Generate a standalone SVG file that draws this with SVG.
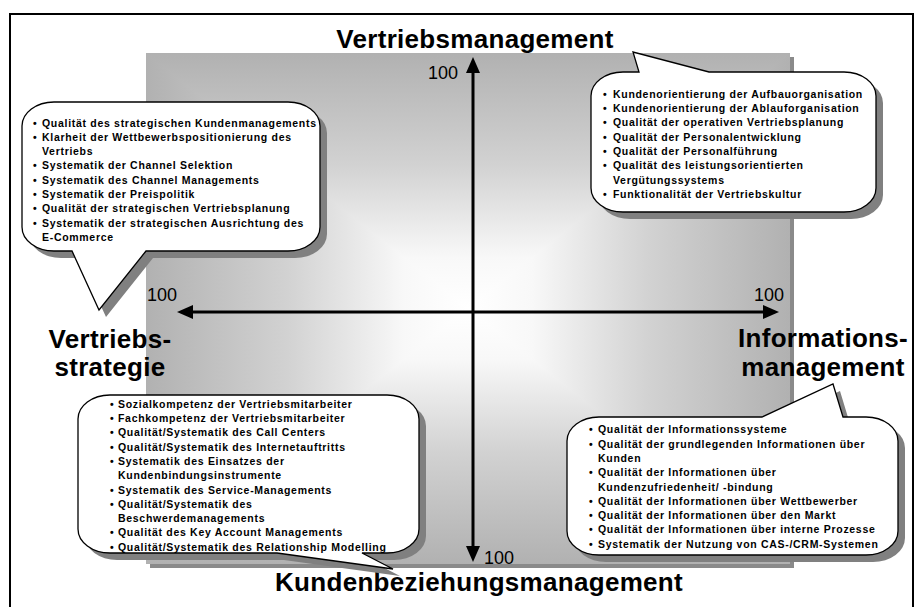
<svg xmlns="http://www.w3.org/2000/svg" width="916" height="607" viewBox="0 0 916 607">
  <defs>
    <style>
      .title { font-family: "Liberation Sans", Arial, sans-serif; font-size: 26px; font-weight: bold; letter-spacing: 0.3px; fill: #000; }
      .scale { font-family: "Liberation Sans", Arial, sans-serif; font-size: 18px; fill: #000; }
      .list { font-family: "Liberation Sans", Arial, sans-serif; font-size: 10.5px; font-weight: bold; letter-spacing: 0.7px; fill: #000; }
      .bubble { fill: #fff; stroke: #000; stroke-width: 1.3; stroke-linejoin: miter; }
      .bubble-shadow { fill: #808080; }
      .axis { stroke: #000; stroke-width: 3; fill: none; }
    </style>
    <linearGradient id="fadeX" gradientUnits="userSpaceOnUse" x1="146" y1="0" x2="790" y2="0">
      <stop offset="0" stop-color="#b1b1b1"/>
      <stop offset="0.22" stop-color="#d2d2d2"/>
      <stop offset="0.4" stop-color="#f8f8f8"/>
      <stop offset="0.5" stop-color="#ffffff"/>
      <stop offset="0.6" stop-color="#f8f8f8"/>
      <stop offset="0.78" stop-color="#d2d2d2"/>
      <stop offset="1" stop-color="#b1b1b1"/>
    </linearGradient>
    <linearGradient id="fadeY" gradientUnits="userSpaceOnUse" x1="0" y1="53" x2="0" y2="564">
      <stop offset="0" stop-color="#b1b1b1"/>
      <stop offset="0.22" stop-color="#d2d2d2"/>
      <stop offset="0.4" stop-color="#f8f8f8"/>
      <stop offset="0.5" stop-color="#ffffff"/>
      <stop offset="0.6" stop-color="#f8f8f8"/>
      <stop offset="0.78" stop-color="#d2d2d2"/>
      <stop offset="1" stop-color="#b1b1b1"/>
    </linearGradient>
    <marker id="head" markerUnits="userSpaceOnUse" markerWidth="16" markerHeight="14" refX="2" refY="7" orient="auto-start-reverse">
      <path d="M0,0 L16,7 L0,14 Z" fill="#000"/>
    </marker>
    <path id="bubbleTL" d="M54,102 H288 A32,24 0 0 1 320,126 V227 A32,24 0 0 1 288,251 H146 L99,310 L72,251 H54 A32,24 0 0 1 22,227 V126 A32,24 0 0 1 54,102 Z"/>
    <path id="bubbleTR" d="M623,72 H639 L633,52 L709,72 H844 A32,24 0 0 1 876,96 V188 A32,24 0 0 1 844,212 H623 A32,24 0 0 1 591,188 V96 A32,24 0 0 1 623,72 Z"/>
    <path id="bubbleBL" d="M110,395 H387 A32,24 0 0 1 419,419 V529 A32,24 0 0 1 387,553 H362 L393,569 L277,553 H110 A32,24 0 0 1 78,529 V419 A32,24 0 0 1 110,395 Z"/>
    <path id="bubbleBR" d="M599,417 H762 L833,384 L843,417 H866 A32,24 0 0 1 898,441 V531 A32,24 0 0 1 866,555 H599 A32,24 0 0 1 567,531 V441 A32,24 0 0 1 599,417 Z"/>
  </defs>

  <rect width="916" height="607" fill="#fff"/>

  <!-- outer frame -->
  <path d="M10,607 V14 H913 V607" fill="none" stroke="#000" stroke-width="2"/>

  <!-- shaded field with a rectangular fade towards the centre -->
  <g id="field">
    <rect x="150" y="57" width="644" height="511" fill="#8a8a8a"/>
    <rect x="146" y="53" width="644" height="511" fill="url(#fadeX)"/>
    <polygon points="146,53 790,53 468,308.5" fill="url(#fadeY)"/>
    <polygon points="146,564 790,564 468,308.5" fill="url(#fadeY)"/>
  </g>

  <!-- axes -->
  <g id="connectors">
    <line class="axis" x1="473" y1="71" x2="473" y2="548" marker-start="url(#head)" marker-end="url(#head)"/>
    <line class="axis" x1="191" y1="312" x2="765" y2="312" marker-start="url(#head)" marker-end="url(#head)"/>
  </g>

  <g id="scale-labels" class="scale">
    <text x="428" y="79">100</text>
    <text x="147" y="301">100</text>
    <text x="754" y="301">100</text>
    <text x="484" y="564">100</text>
  </g>

  <!-- axis titles -->
  <g id="title-top"><text class="title" x="475" y="48" text-anchor="middle">Vertriebsmanagement</text></g>
  <g id="title-left"><text class="title" text-anchor="middle"><tspan x="110" y="348">Vertriebs-</tspan><tspan x="110" y="376">strategie</tspan></text></g>
  <g id="title-right"><text class="title" text-anchor="middle"><tspan x="823" y="347">Informations-</tspan><tspan x="823" y="376">management</tspan></text></g>
  <g id="title-bottom"><text class="title" x="479" y="591" text-anchor="middle">Kundenbeziehungsmanagement</text></g>

  <!-- callout: strategy -->
  <g id="callout-strategie">
    <use href="#bubbleTL" class="bubble-shadow" transform="translate(7,7)"/>
    <use href="#bubbleTL" class="bubble"/>
    <text class="list">
      <tspan x="33" y="126.5">•</tspan><tspan x="42">Qualität des strategischen Kundenmanagements</tspan>
      <tspan x="33" y="140.8">•</tspan><tspan x="42">Klarheit der Wettbewerbspositionierung des</tspan>
      <tspan x="42" y="155.1">Vertriebs</tspan>
      <tspan x="33" y="169.4">•</tspan><tspan x="42">Systematik der Channel Selektion</tspan>
      <tspan x="33" y="183.7">•</tspan><tspan x="42">Systematik des Channel Managements</tspan>
      <tspan x="33" y="198">•</tspan><tspan x="42">Systematik der Preispolitik</tspan>
      <tspan x="33" y="212.3">•</tspan><tspan x="42">Qualität der strategischen Vertriebsplanung</tspan>
      <tspan x="33" y="226.6">•</tspan><tspan x="42">Systematik der strategischen Ausrichtung des</tspan>
      <tspan x="42" y="240.9">E-Commerce</tspan>
    </text>
  </g>

  <!-- callout: sales management -->
  <g id="callout-vertriebsmanagement">
    <use href="#bubbleTR" class="bubble-shadow" transform="translate(7,7)"/>
    <use href="#bubbleTR" class="bubble"/>
    <text class="list">
      <tspan x="603" y="97.7">•</tspan><tspan x="613">Kundenorientierung der Aufbauorganisation</tspan>
      <tspan x="603" y="112">•</tspan><tspan x="613">Kundenorientierung der Ablauforganisation</tspan>
      <tspan x="603" y="126.3">•</tspan><tspan x="613">Qualität der operativen Vertriebsplanung</tspan>
      <tspan x="603" y="140.6">•</tspan><tspan x="613">Qualität der Personalentwicklung</tspan>
      <tspan x="603" y="154.9">•</tspan><tspan x="613">Qualität der Personalführung</tspan>
      <tspan x="603" y="169.2">•</tspan><tspan x="613">Qualität des leistungsorientierten</tspan>
      <tspan x="613" y="183.5">Vergütungssystems</tspan>
      <tspan x="603" y="197.8">•</tspan><tspan x="613">Funktionalität der Vertriebskultur</tspan>
    </text>
  </g>

  <!-- callout: customer relationship management -->
  <g id="callout-kundenbeziehung">
    <use href="#bubbleBL" class="bubble-shadow" transform="translate(7,7)"/>
    <use href="#bubbleBL" class="bubble"/>
    <text class="list">
      <tspan x="110" y="407.7">•</tspan><tspan x="118">Sozialkompetenz der Vertriebsmitarbeiter</tspan>
      <tspan x="110" y="422">•</tspan><tspan x="118">Fachkompetenz der Vertriebsmitarbeiter</tspan>
      <tspan x="110" y="436.3">•</tspan><tspan x="118">Qualität/Systematik des Call Centers</tspan>
      <tspan x="110" y="450.6">•</tspan><tspan x="118">Qualität/Systematik des Internetauftritts</tspan>
      <tspan x="110" y="464.9">•</tspan><tspan x="118">Systematik des Einsatzes der</tspan>
      <tspan x="118" y="479.2">Kundenbindungsinstrumente</tspan>
      <tspan x="110" y="493.5">•</tspan><tspan x="118">Systematik des Service-Managements</tspan>
      <tspan x="110" y="507.8">•</tspan><tspan x="118">Qualität/Systematik des</tspan>
      <tspan x="118" y="522.1">Beschwerdemanagements</tspan>
      <tspan x="110" y="536.4">•</tspan><tspan x="118">Qualität des Key Account Managements</tspan>
      <tspan x="110" y="550.7">•</tspan><tspan x="118">Qualität/Systematik des Relationship Modelling</tspan>
    </text>
  </g>

  <!-- callout: information management -->
  <g id="callout-information">
    <use href="#bubbleBR" class="bubble-shadow" transform="translate(7,7)"/>
    <use href="#bubbleBR" class="bubble"/>
    <text class="list">
      <tspan x="589" y="433.3">•</tspan><tspan x="598">Qualität der Informationssysteme</tspan>
      <tspan x="589" y="447.6">•</tspan><tspan x="598">Qualität der grundlegenden Informationen über</tspan>
      <tspan x="598" y="461.9">Kunden</tspan>
      <tspan x="589" y="476.2">•</tspan><tspan x="598">Qualität der Informationen über</tspan>
      <tspan x="598" y="490.5">Kundenzufriedenheit/ -bindung</tspan>
      <tspan x="589" y="504.8">•</tspan><tspan x="598">Qualität der Informationen über Wettbewerber</tspan>
      <tspan x="589" y="519.1">•</tspan><tspan x="598">Qualität der Informationen über den Markt</tspan>
      <tspan x="589" y="533.4">•</tspan><tspan x="598">Qualität der Informationen über interne Prozesse</tspan>
      <tspan x="589" y="547.7">•</tspan><tspan x="598">Systematik der Nutzung von CAS-/CRM-Systemen</tspan>
    </text>
  </g>
</svg>
